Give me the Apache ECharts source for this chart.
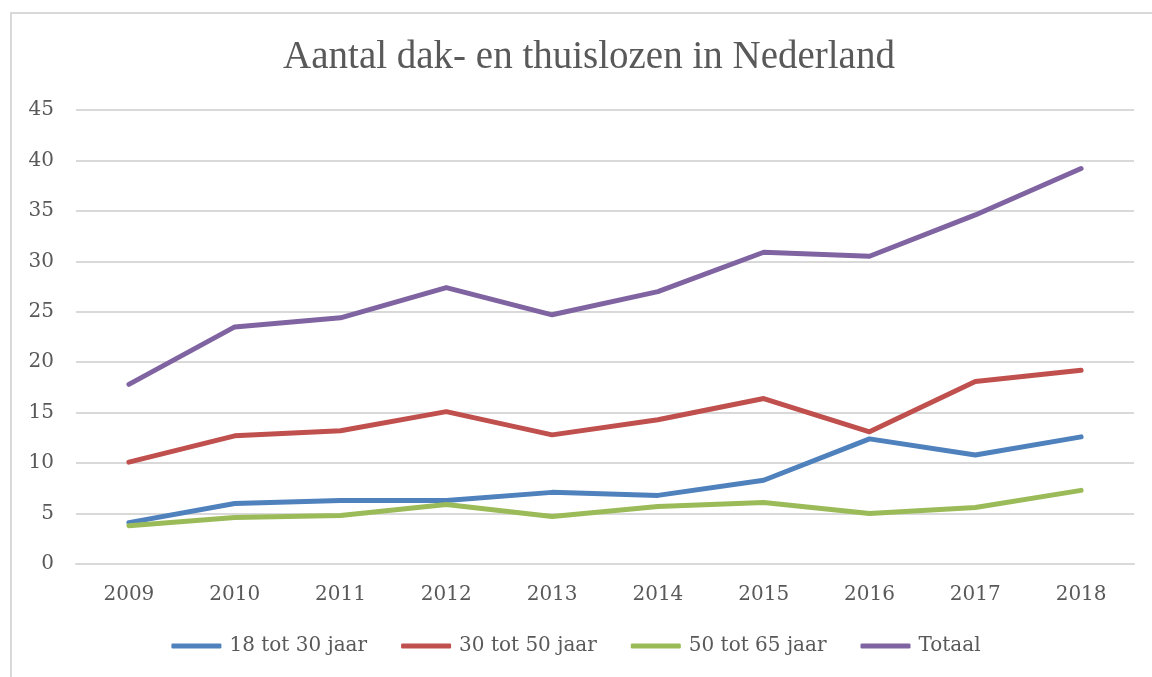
<!DOCTYPE html>
<html>
<head>
<meta charset="utf-8">
<script src="https://cdn.jsdelivr.net/npm/echarts@6/dist/echarts.min.js"></script>
<style>
  html, body { margin: 0; padding: 0; background: #fff; }
  #chart { width: 1152px; height: 677px; }
</style>
</head>
<body>
<div id="chart"></div>
<script>
// data (x 1000)
const years = ["2009", "2010", "2011", "2012", "2013", "2014", "2015", "2016", "2017", "2018"];
const age18to30 = [4.1, 6.0, 6.3, 6.3, 7.1, 6.8, 8.3, 12.4, 10.8, 12.6];
const age30to50 = [10.1, 12.7, 13.2, 15.1, 12.8, 14.3, 16.4, 13.1, 18.1, 19.2];
const age50to65 = [3.8, 4.6, 4.8, 5.9, 4.7, 5.7, 6.1, 5.0, 5.6, 7.3];
const totaal = [17.8, 23.5, 24.4, 27.4, 24.7, 27.0, 30.9, 30.5, 34.6, 39.2];

const titleFont = "Liberation Serif";
const font = "DejaVu Serif";
const textColor = "#595959";

function lineSeries(name, data, color) {
  return {
    name: name,
    type: "line",
    data: data,
    symbol: "none",
    lineStyle: { width: 5, color: color, cap: "round", join: "round" },
    itemStyle: { color: color },
  };
}

let myChart = echarts.init(document.getElementById("chart"));
myChart.setOption({
  animation: false,
  textStyle: { fontFamily: font, color: textColor },
  title: {
    text: "Aantal dak- en thuislozen in Nederland",
    left: 584,
    textAlign: "center",
    top: 33,
    textStyle: { fontFamily: titleFont, fontSize: 39, fontWeight: "normal", color: textColor },
  },
  graphic: [{
    type: "rect",
    shape: { x: 11, y: 13, width: 1200, height: 700 },
    style: { fill: "none", stroke: "#d9d9d9", lineWidth: 2 },
    silent: true,
  }],
  grid: { left: 76, right: 18, top: 110, bottom: 113 },
  legend: {
    bottom: 16,
    left: "center",
    itemWidth: 50,
    itemHeight: 5,
    itemGap: 34,
    icon: "roundRect",
    textStyle: { fontFamily: font, fontSize: 20, color: textColor, padding: [0, 0, 0, 3] },
  },
  xAxis: {
    type: "category",
    data: years,
    axisLine: { lineStyle: { color: "#d9d9d9", width: 2 } },
    axisTick: { show: false },
    axisLabel: { fontFamily: font, fontSize: 20, color: textColor, margin: 21 },
  },
  yAxis: {
    type: "value",
    min: 0,
    max: 45,
    interval: 5,
    axisLine: { show: false },
    axisTick: { show: false },
    splitLine: { lineStyle: { color: "#d9d9d9", width: 2 } },
    axisLabel: { fontFamily: font, fontSize: 20, color: textColor, margin: 22 },
  },
  series: [
    lineSeries("18 tot 30 jaar", age18to30, "#4f81bd"),
    lineSeries("30 tot 50 jaar", age30to50, "#c0504d"),
    lineSeries("50 tot 65 jaar", age50to65, "#9bbb59"),
    lineSeries("Totaal", totaal, "#8064a2"),
  ],
});
</script>
</body>
</html>
